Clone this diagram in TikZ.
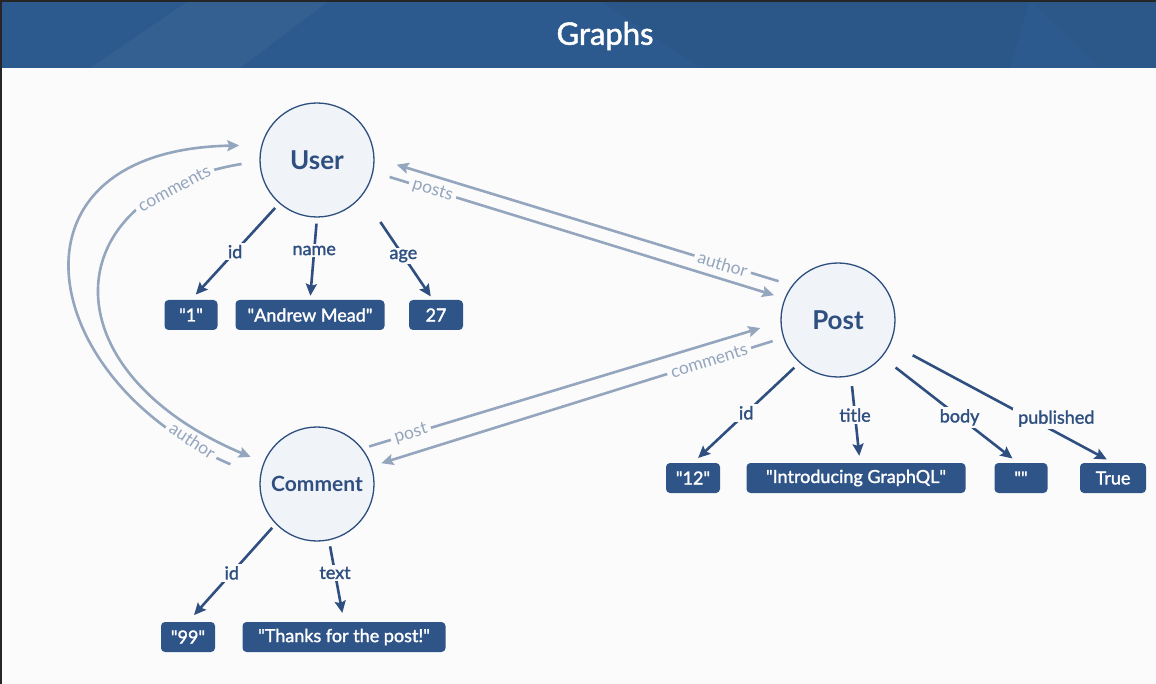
\documentclass[tikz,border=0pt]{standalone}
\usepackage{fontspec}
\setmainfont{Lato}
\newfontfamily\medfont{Lato}[FakeBold=1.6]
\usetikzlibrary{arrows.meta}

\definecolor{headblue}{HTML}{2D5A8E}
\definecolor{valblue}{HTML}{2F5487}
\definecolor{propblue}{HTML}{2F4F80}
\definecolor{relgray}{HTML}{94A5BE}
\definecolor{circlefill}{HTML}{F0F4F8}
\definecolor{circleline}{HTML}{2D4E7E}
\definecolor{bg}{HTML}{FBFBFB}

\newcommand\qt[1]{\textquotedbl#1\textquotedbl}

\begin{document}
\begin{tikzpicture}[x=1pt, y=-1pt,
  entity/.style = {circle, draw=circleline, line width=1.3pt, fill=circlefill,
    minimum size=114pt, inner sep=0pt, text=propblue,
    font=\bfseries\fontsize{26}{30}\selectfont},
  value/.style = {rectangle, rounded corners=4pt, fill=valblue, text=white,
    minimum width=54pt, minimum height=30pt, inner xsep=4pt,
    font=\medfont\fontsize{18}{21}\selectfont},
  prop/.style = {draw=propblue, line width=2.6pt,
    -{Stealth[length=12pt, width=11pt, inset=2pt]}},
  rel/.style = {draw=relgray, line width=2.6pt,
    -{Stealth[length=12pt, width=11pt, inset=2pt]}},
  plabel/.style = {fill=bg, text=propblue, inner xsep=5pt, inner ysep=2pt,
    font=\medfont\fontsize{18}{21}\selectfont},
  rlabel/.style = {fill=bg, text=relgray, inner xsep=4pt, inner ysep=1pt, sloped,
    font=\fontsize{17.5}{20}\selectfont}]
  \useasboundingbox (0,0) rectangle (1156,684);
  \fill[bg] (0,0) rectangle (1156,684);

  % header bar
  \fill[headblue] (0,0) rectangle (1156,68);
  \fill[white, opacity=0.03] (90,68) -- (190,0) -- (330,0) -- (240,68) -- cycle;
  \fill[black, opacity=0.04] (600,0) -- (700,68) -- (1010,68) -- (1030,0) -- cycle;
  \fill[black, opacity=0.03] (1030,0) -- (1156,0) -- (1156,68) -- (1100,68) -- cycle;
  \fill[black!85] (0,0) rectangle (1156,2);
  \fill[black!85] (0,0) rectangle (2,684);
  \node[text=white, font=\medfont\fontsize{31}{36}\selectfont] (title) at (605,36) {Graphs};

  % entities
  \node[entity] (User) at (317,160) {User};
  \node[entity] (Post) at (838,320) {Post};
  \node[entity, font=\bfseries\fontsize{21}{25}\selectfont] (Comment) at (317,484) {Comment};

  % values
  \node[value, minimum width=53pt]  (uid)    at (191,315) {\qt{1}};
  \node[value, minimum width=149pt] (uname)  at (310,315) {\qt{Andrew Mead}};
  \node[value]                      (uage)   at (436,315) {27};
  \node[value]                      (pid)    at (693,478) {\qt{12}};
  \node[value, minimum width=219pt] (ptitle) at (856,478) {\qt{Introducing GraphQL}};
  \node[value, minimum width=53pt]  (pbody)  at (1021,478) {\qt{}};
  \node[value, minimum width=66pt]  (ppub)   at (1113,478) {True};
  \node[value]                      (cid)    at (188,637) {\qt{99}};
  \node[value, minimum width=203pt] (ctext)  at (344,637) {\qt{Thanks for the post!}};

  % properties
  \draw[prop, shorten <=6pt, shorten >=7pt] (User.229) -- node[plabel] {id} (uid.north);
  \draw[prop, shorten <=6pt, shorten >=4pt] (User.south) -- node[plabel, pos=0.4] {name} (uname.north);
  \draw[prop, shorten <=32pt, shorten >=4pt] (User.-38) -- node[plabel, pos=0.58] {age} ([xshift=-3pt]uage.north);
  \draw[prop, shorten <=7pt, shorten >=7pt] (Post.228) -- node[plabel] {id} (pid.north);
  \draw[prop, shorten <=10pt, shorten >=7pt] (Post.-77) -- node[plabel, pos=0.45] {title} ([xshift=4pt]ptitle.north);
  \draw[prop, shorten <=17pt, shorten >=7pt] (Post.-40) -- node[plabel, pos=0.57] {body} ([xshift=-3pt]pbody.north);
  \draw[prop, shorten <=25pt, shorten >=7pt] (Post.-24) -- node[plabel, pos=0.655, xshift=20pt, yshift=3pt] {published} (ppub.north);
  \draw[prop, shorten <=5pt, shorten >=9pt] (Comment.224) -- node[plabel] {id} (cid.north);
  \draw[prop, shorten <=6pt, shorten >=9pt] (Comment.-78) -- node[plabel, pos=0.4] {text} (ctext.north);

  % relations
  \draw[rel, shorten <=17pt, shorten >=11pt] (User.-12) -- node[rlabel, pos=0.144] {posts} (Post.158);
  \draw[rel, shorten <=14pt, shorten >=23pt] (Post.143) -- node[rlabel, pos=0.166] {author} (User.2);
  \draw[rel, shorten <=11pt, shorten >=10pt] (Post.198.7) -- node[rlabel, pos=0.18] {comments} (Comment.18.7);
  \draw[rel, shorten <=7pt, shorten >=21pt] (Comment.38.8) -- node[rlabel, pos=0.116] {post} (Post.182.2);
  \draw[rel, shorten <=18pt, shorten >=14pt] (User.181.5) .. controls (55,195) and (45,370) .. node[rlabel, pos=0.165] {comments} (Comment.158);
  \draw[rel, shorten <=32pt, shorten >=22pt] (Comment.173) .. controls (35,380) and (-5,150) .. node[rlabel, pos=0.11] {author} (User.165.4);
\end{tikzpicture}
\end{document}
